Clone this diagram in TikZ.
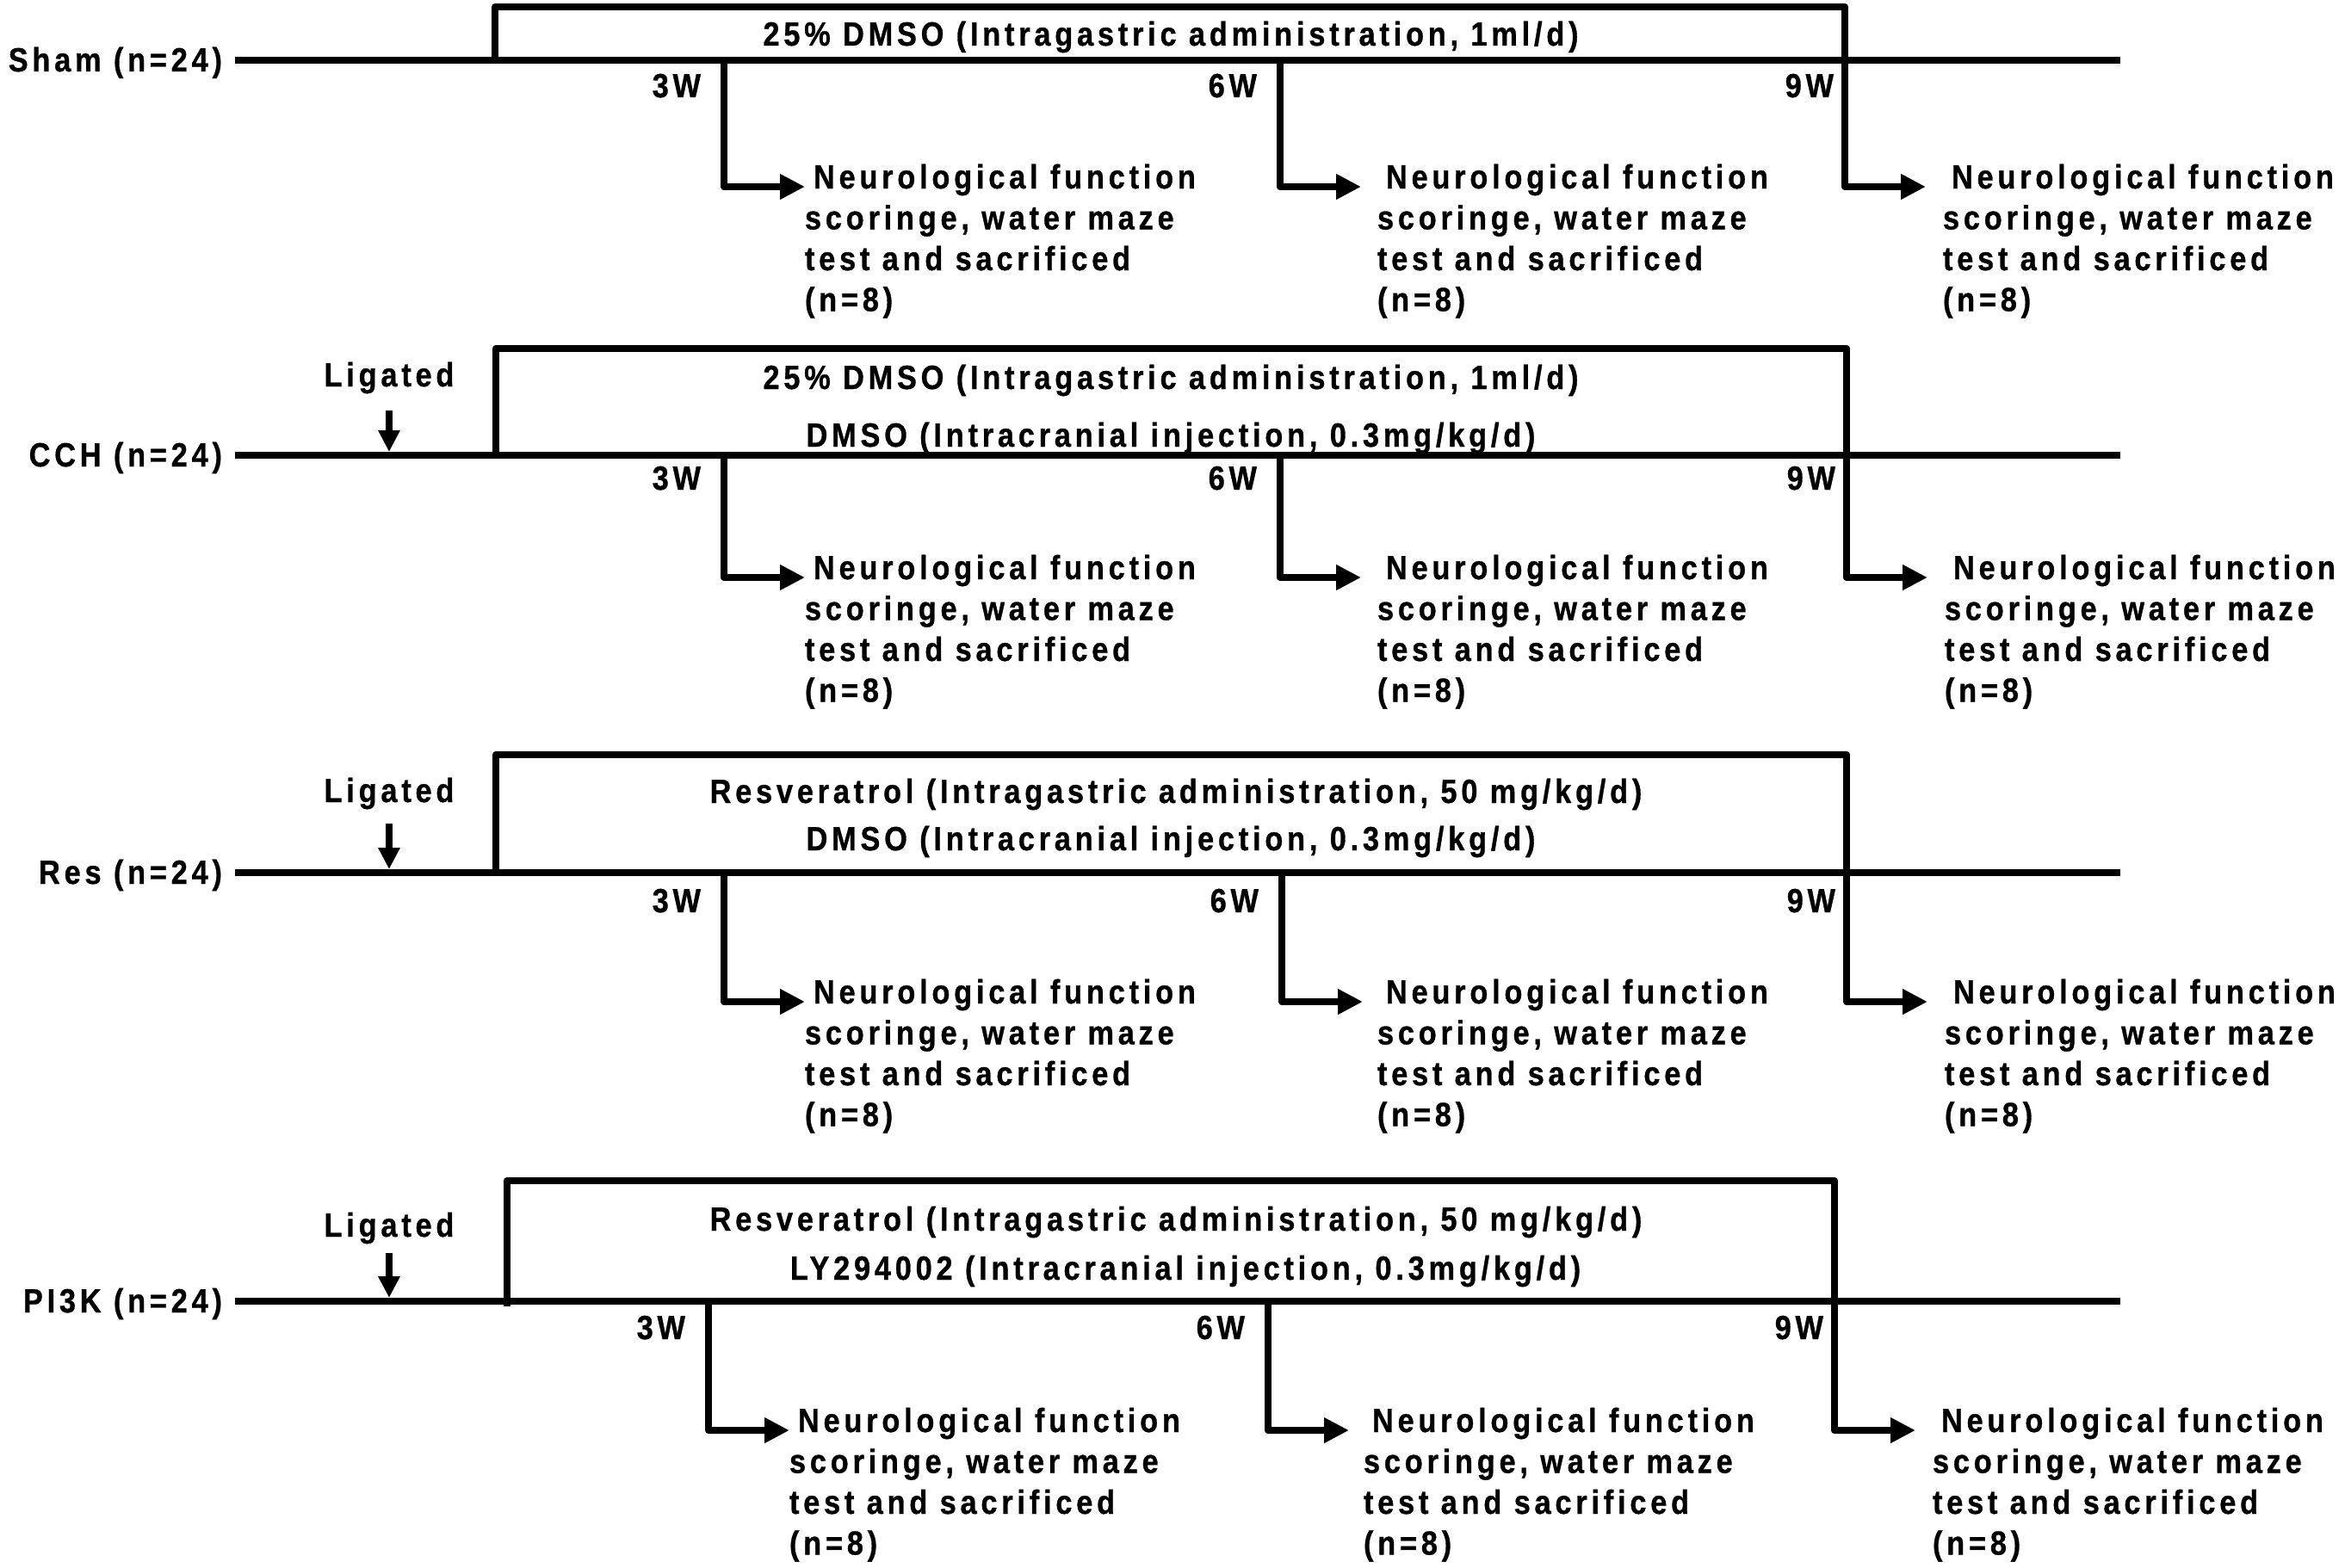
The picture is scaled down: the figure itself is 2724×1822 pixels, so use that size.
\documentclass[tikz,border=0pt]{standalone}
\usepackage{fontspec}
\newfontfamily\figfont{Liberation Sans}[LetterSpace=12.3, FakeStretch=0.88, FakeBold=0.8]
\usetikzlibrary{arrows.meta}
\tikzset{
  tline/.style={line width=8.5pt},
  boxline/.style={line width=8.5pt, line join=round},
  conn/.style={line width=8.5pt, line join=round, -{Triangle[length=29pt,width=28pt]}},
  ligarrow/.style={line width=8.5pt, -{Triangle[length=25pt,width=24pt]}},
  lbl/.style={font=\figfont\bfseries\fontsize{39}{47.5}\selectfont, inner sep=0pt, outer sep=0pt},
  outtext/.style={lbl, align=left},
}
% #1 name, #2 x, #3 line y, #4 arrow y, #5 week label, #6 label right x, #7 label baseline y, #8 text offset
% (the base anchor of the four-line block is the baseline of its last line)
\newcommand\wkbranch[8]{%
  \coordinate (#1a) at (#2,#3);
  \coordinate (#1b) at (#2,#4);
  \node[outtext, anchor=base west] (#1t) at (#2+94+#8,#4+2+142.5)
    {\hspace*{10pt}Neurological function\\scoringe, water maze\\test and sacrificed\\(n=8)};
  \coordinate (#1c) at (#2+94,#4);
  \draw[conn] (#1a) -- (#1b) -- (#1c);
  \node[lbl, anchor=base east] (#1w) at (#6,#7) {#5};
}
\begin{document}
\begin{tikzpicture}[x=1pt,y=-1pt]
\useasboundingbox (0,0) rectangle (2724,1822);

% ---------------- Sham ----------------
\node[lbl, anchor=base east] (sham) at (258,83) {Sham (n=24)};
\coordinate (shamS) at (273,70); \coordinate (shamE) at (2463,70);
\draw[tline] (shamS) -- (shamE);
\coordinate (shamBL) at (575,70); \coordinate (shamTL) at (575,8);
\coordinate (shamTR) at (2143,8); \coordinate (shamBR) at (2143,70);
\draw[boxline] (shamBL) -- (shamTL) -- (shamTR) -- (shamBR);
\node[lbl, anchor=base] (shamD1) at (1360,53) {25\% DMSO (Intragastric administration, 1ml/d)};
\wkbranch{shamA}{841}{70}{217}{3W}{814}{113}{0}
\wkbranch{shamB}{1487}{70}{217}{6W}{1460}{113}{19}
\wkbranch{shamC}{2143}{70}{217}{9W}{2130}{113}{20}

% ---------------- CCH ----------------
\node[lbl, anchor=base east] (cch) at (258,542) {CCH (n=24)};
\coordinate (cchS) at (273,529); \coordinate (cchE) at (2463,529);
\draw[tline] (cchS) -- (cchE);
\coordinate (cchBL) at (576,529); \coordinate (cchTL) at (576,405);
\coordinate (cchTR) at (2145,405); \coordinate (cchBR) at (2145,529);
\draw[boxline] (cchBL) -- (cchTL) -- (cchTR) -- (cchBR);
\node[lbl, anchor=base] (cchD1) at (1360,452) {25\% DMSO (Intragastric administration, 1ml/d)};
\node[lbl, anchor=base] (cchD2) at (1360,519) {DMSO (Intracranial injection, 0.3mg/kg/d)};
\node[lbl, anchor=base] (cchL) at (452,449) {Ligated};
\coordinate (cchLa) at (452,477); \coordinate (cchLb) at (452,525);
\draw[ligarrow] (cchLa) -- (cchLb);
\wkbranch{cchA}{841}{529}{671}{3W}{814}{569}{0}
\wkbranch{cchB}{1487}{529}{671}{6W}{1460}{569}{19}
\wkbranch{cchC}{2145}{529}{671}{9W}{2132}{569}{20}

% ---------------- Res ----------------
\node[lbl, anchor=base east] (res) at (258,1027) {Res (n=24)};
\coordinate (resS) at (273,1014); \coordinate (resE) at (2463,1014);
\draw[tline] (resS) -- (resE);
\coordinate (resBL) at (576,1014); \coordinate (resTL) at (576,877);
\coordinate (resTR) at (2145,877); \coordinate (resBR) at (2145,1014);
\draw[boxline] (resBL) -- (resTL) -- (resTR) -- (resBR);
\node[lbl, anchor=base] (resD1) at (1366,933) {Resveratrol (Intragastric administration, 50 mg/kg/d)};
\node[lbl, anchor=base] (resD2) at (1360,988) {DMSO (Intracranial injection, 0.3mg/kg/d)};
\node[lbl, anchor=base] (resL) at (452,932) {Ligated};
\coordinate (resLa) at (452,957); \coordinate (resLb) at (452,1010);
\draw[ligarrow] (resLa) -- (resLb);
\wkbranch{resA}{841}{1014}{1164}{3W}{814}{1060}{0}
\wkbranch{resB}{1489}{1014}{1164}{6W}{1462}{1060}{17}
\wkbranch{resC}{2145}{1014}{1164}{9W}{2132}{1060}{20}

% ---------------- PI3K ----------------
\node[lbl, anchor=base east] (pik) at (258,1525) {PI3K (n=24)};
\coordinate (pikS) at (273,1512); \coordinate (pikE) at (2463,1512);
\draw[tline] (pikS) -- (pikE);
\coordinate (pikBL) at (589,1518); \coordinate (pikTL) at (589,1372);
\coordinate (pikTR) at (2131,1372); \coordinate (pikBR) at (2131,1512);
\draw[boxline] (pikBL) -- (pikTL) -- (pikTR) -- (pikBR);
\node[lbl, anchor=base] (pikD1) at (1366,1430) {Resveratrol (Intragastric administration, 50 mg/kg/d)};
\node[lbl, anchor=base] (pikD2) at (1377,1487) {LY294002 (Intracranial injection, 0.3mg/kg/d)};
\node[lbl, anchor=base] (pikL) at (452,1437) {Ligated};
\coordinate (pikLa) at (452,1456); \coordinate (pikLb) at (452,1508);
\draw[ligarrow] (pikLa) -- (pikLb);
\wkbranch{pikA}{823}{1512}{1662}{3W}{796}{1556}{0}
\wkbranch{pikB}{1473}{1512}{1662}{6W}{1446}{1556}{17}
\wkbranch{pikC}{2131}{1512}{1662}{9W}{2118}{1556}{20}
\end{tikzpicture}
\end{document}
